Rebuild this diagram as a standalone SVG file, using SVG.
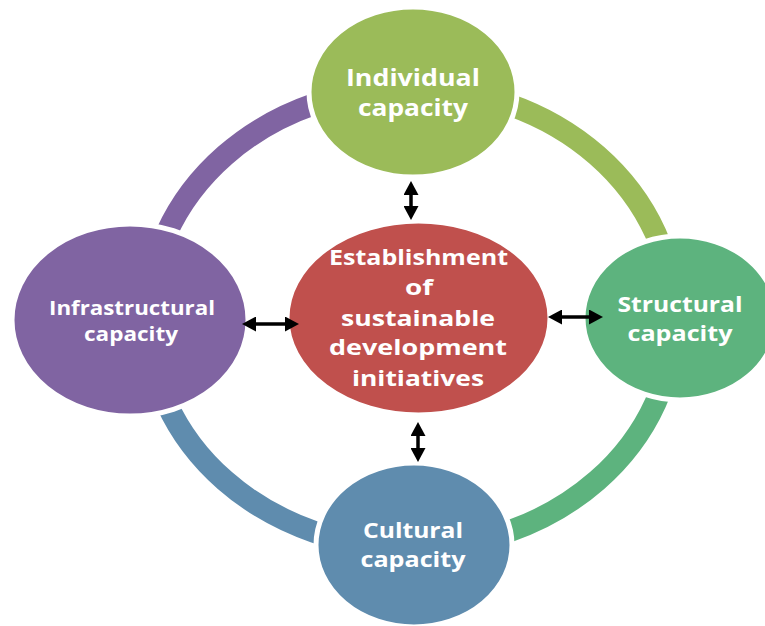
<svg xmlns="http://www.w3.org/2000/svg" width="765" height="626" viewBox="0 0 765 626">
<style>
.ring{fill:none;stroke-width:22}
.node{stroke:#fff;stroke-width:5}
.lbl{font-family:"Open Sans","Noto Sans","Liberation Sans",sans-serif;font-weight:bold;fill:#fff;text-anchor:middle}
.arr{stroke:#000;stroke-width:3.5;fill:none;marker-start:url(#ah);marker-end:url(#ah)}
</style>
<defs>
<marker id="ah" markerUnits="userSpaceOnUse" markerWidth="15" markerHeight="15" viewBox="0 0 15 15" refX="6" refY="7.5" orient="auto-start-reverse">
<path d="M0,0 L14,7.5 L0,15 z" fill="#000"/>
</marker>
</defs>
<rect width="765" height="626" fill="#fff"/>
<g id="connectors">
<path class="ring" stroke="#8064A2" d="M148,318 A263,230 0 0 1 411,88"/>
<path class="ring" stroke="#9BBB59" d="M411,88 A263,230 0 0 1 674,318"/>
<path class="ring" stroke="#5DB37E" d="M674,318 A263,230 0 0 1 411,548"/>
<path class="ring" stroke="#5F8CAE" d="M411,548 A263,230 0 0 1 148,318"/>
</g>
<g id="individual">
<ellipse class="node" cx="413" cy="92" rx="104" ry="85" fill="#9BBB59"/>
<text class="lbl" font-size="23"><tspan x="413" y="86" textLength="134" lengthAdjust="spacingAndGlyphs">Individual</tspan><tspan x="413" y="116" textLength="110" lengthAdjust="spacingAndGlyphs">capacity</tspan></text>
</g>
<g id="infrastructural">
<ellipse class="node" cx="130" cy="320" rx="118" ry="96" fill="#8064A2"/>
<text class="lbl" font-size="20"><tspan x="132" y="315" textLength="166" lengthAdjust="spacingAndGlyphs">Infrastructural</tspan><tspan x="131" y="341" textLength="94" lengthAdjust="spacingAndGlyphs">capacity</tspan></text>
</g>
<g id="structural">
<ellipse class="node" cx="680" cy="318" rx="97" ry="82" fill="#5DB37E"/>
<text class="lbl" font-size="22"><tspan x="680" y="312" textLength="125" lengthAdjust="spacingAndGlyphs">Structural</tspan><tspan x="680" y="341" textLength="105" lengthAdjust="spacingAndGlyphs">capacity</tspan></text>
</g>
<g id="cultural">
<ellipse class="node" cx="414" cy="545" rx="98" ry="82" fill="#5F8CAE"/>
<text class="lbl" font-size="22"><tspan x="413" y="538" textLength="100" lengthAdjust="spacingAndGlyphs">Cultural</tspan><tspan x="413" y="567" textLength="105" lengthAdjust="spacingAndGlyphs">capacity</tspan></text>
</g>
<g id="center">
<ellipse class="node" cx="418.5" cy="318" rx="131.5" ry="97" fill="#C0504D"/>
<text class="lbl" font-size="22"><tspan x="418.5" y="265" textLength="179" lengthAdjust="spacingAndGlyphs">Establishment</tspan><tspan x="419" y="295" textLength="28" lengthAdjust="spacingAndGlyphs">of</tspan><tspan x="418" y="326" textLength="154" lengthAdjust="spacingAndGlyphs">sustainable</tspan><tspan x="418" y="355" textLength="178" lengthAdjust="spacingAndGlyphs">development</tspan><tspan x="418" y="386" textLength="132" lengthAdjust="spacingAndGlyphs">initiatives</tspan></text>
</g>
<g id="arrows">
<line class="arr" x1="411" y1="189" x2="411" y2="212"/>
<line class="arr" x1="418" y1="430" x2="418" y2="454"/>
<line class="arr" x1="250" y1="324" x2="291" y2="324"/>
<line class="arr" x1="556" y1="317" x2="595" y2="317"/>
</g>
</svg>
